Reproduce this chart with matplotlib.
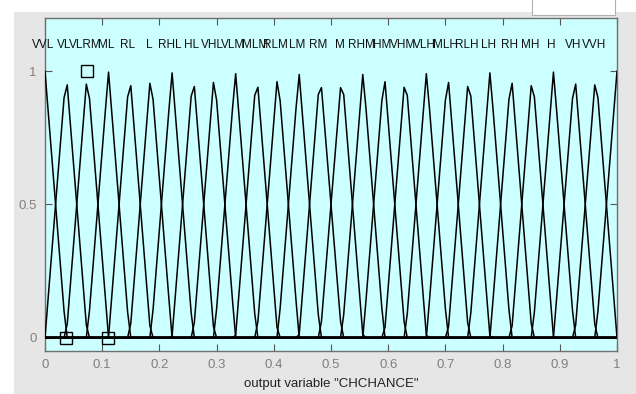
import matplotlib
matplotlib.use("Agg")
import matplotlib.pyplot as plt
import numpy as np
from matplotlib.patches import Rectangle

# Membership function peak positions
centers = [0.000, 0.037, 0.074, 0.111, 0.148, 0.185, 0.222, 0.259, 0.296,
           0.333, 0.370, 0.407, 0.444, 0.481, 0.519, 0.556, 0.593, 0.630,
           0.667, 0.704, 0.741, 0.778, 0.815, 0.852, 0.889, 0.926, 0.963, 1.000]
mf_names = ["VVL", "VL", "VLRM", "ML", "RL", "L", "RHL", "HL", "VHL",
            "VLM", "MLM", "RLM", "LM", "RM", "M", "RHM", "HM", "VHM",
            "VLH", "MLH", "RLH", "LH", "RH", "MH", "H", "VH", "VVH", ""]
selected_mf = 2
x_ticks = [0, 0.1, 0.2, 0.3, 0.4, 0.5, 0.6, 0.7, 0.8, 0.9, 1]
x_tick_labels = ["0", "0.1", "0.2", "0.3", "0.4", "0.5", "0.6", "0.7", "0.8", "0.9", "1"]
y_ticks = [0, 0.5, 1]
y_tick_labels = ["0", "0.5", "1"]
x_label = 'output variable "CHCHANCE"'

W, H = 636, 394
fig = plt.figure(figsize=(W / 100, H / 100), dpi=100, facecolor="white")
# grey panel
fig.patches.append(Rectangle((14 / W, 0), 1 - 14 / W, 1 - 12 / H, transform=fig.transFigure,
                             facecolor="#e6e6e6", edgecolor="none", zorder=-2))
# small white box at top right
fig.patches.append(Rectangle((532 / W, 1 - 15 / H), 83 / W, 15 / H + 0.01, transform=fig.transFigure,
                             facecolor="white", edgecolor="#b0b0b0", lw=0.8, zorder=-1))

L, R, T, B = 45, 617, 18, 351
ax = fig.add_axes([L / W, 1 - B / H, (R - L) / W, (B - T) / H])
ax.set_zorder(5)
ax.set_facecolor("#ccffff")

xs = np.linspace(0, 1, 181)
step = centers[1] - centers[0]
for i, c in enumerate(centers):
    a = centers[i - 1] if i > 0 else c - step
    b = c
    d = centers[i + 1] if i < len(centers) - 1 else c + step
    y = np.clip(np.minimum((xs - a) / (b - a), (d - xs) / (d - b)), 0, 1)
    ax.plot(xs, y, color="black", lw=1.1, antialiased=True, zorder=3)
    if mf_names[i]:
        ax.annotate(mf_names[i], (c, 1.10), xytext=(-2, 0), textcoords="offset pixels",
                    ha="center", va="center", fontsize=8.5,
                    family="Liberation Sans", color="#111111", zorder=4)

# selection handles for the selected MF
sa = centers[selected_mf - 1]
sb = centers[selected_mf]
sc = centers[selected_mf + 1]
ax.plot([sa, sc], [0, 0], ls="none", marker="s", ms=8, mfc="none", mec="black", mew=1.0, zorder=5)
ax.plot([sb], [1.0], ls="none", marker="s", ms=8, mfc="none", mec="black", mew=1.0, zorder=5)

ax.set_xlim(0, 1)
ax.set_ylim(-0.05, 1.2)
ax.set_xticks(x_ticks)
ax.set_xticklabels(x_tick_labels)
ax.set_yticks(y_ticks)
ax.set_yticklabels(y_tick_labels)
ax.tick_params(direction="in", length=5, width=0.8, colors="#555555", labelcolor="#808080",
               labelsize=9.5, top=True, right=True, pad=6)
for lab in ax.get_xticklabels() + ax.get_yticklabels():
    lab.set_family("Liberation Sans")
for s in ax.spines.values():
    s.set_color("#707070")
    s.set_linewidth(1.0)
ax.set_xlabel(x_label, fontsize=9.5, family="Liberation Sans", color="#222222", labelpad=5)

fig.savefig("out.png", dpi=100, facecolor=fig.get_facecolor())
